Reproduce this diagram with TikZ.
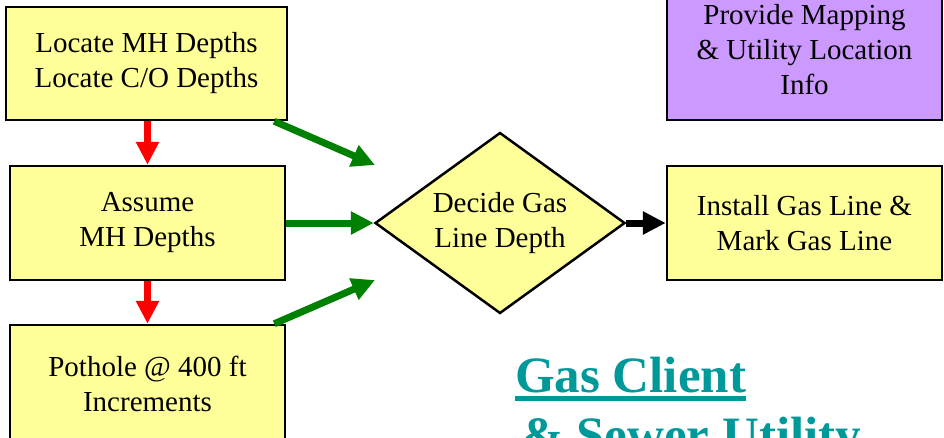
\documentclass[tikz,border=0pt]{standalone}
\usepackage{fontspec}
\setmainfont{Liberation Serif}
\usepackage{tikz}
\usepackage{xcolor}
\usetikzlibrary{shapes.geometric, arrows.meta, positioning}

\definecolor{boxyellow}{HTML}{FFFF99}
\definecolor{boxpurple}{HTML}{CC99FF}
\definecolor{flowgreen}{HTML}{008000}
\definecolor{titleteal}{HTML}{009999}

\begin{document}
\begin{tikzpicture}[x=1pt, y=-1pt,
  stepbox/.style={draw, line width=2.5pt, fill=boxyellow, align=center,
    inner sep=0pt, font=\fontsize{29}{35}\selectfont},
  flow/.style={line width=7pt, -{Triangle[length=23pt, width=22pt]}}]
  \useasboundingbox (0,0) rectangle (944,437);
  % left column of steps
  \node[stepbox, minimum width=281pt, minimum height=113pt] (locate) at (146.5,63.5)
    {Locate MH Depths\\Locate C/O Depths};
  \node[stepbox, minimum width=275pt, minimum height=114pt] (assume) at (147.5,223)
    {Assume\\MH Depths};
  \node[stepbox, minimum width=275pt, minimum height=118pt] (pothole) at (147.5,384)
    {Pothole @ 400 ft\\Increments};
  % decision
  \node[stepbox, diamond, aspect=1.38, minimum width=250pt, minimum height=181pt] (decide) at (500,223)
    {Decide Gas\\Line Depth};
  % right column
  \node[stepbox, minimum width=275pt, minimum height=114pt] (install) at (804.5,223)
    {Install Gas Line \&\\Mark Gas Line};
  \node[stepbox, fill=boxpurple, minimum width=275pt, minimum height=140pt] (mapping) at (804.5,50)
    {Provide Mapping\\\& Utility Location\\Info};
  % free arrow ends near the diamond
  \coordinate (upin) at (375,165);
  \coordinate (lowin) at (375,280);
  % red arrows down the column
  \draw[flow, red] (assume.north |- locate.south) -- (assume.north);
  \draw[flow, red] (assume.south) -- (pothole.north);
  % green arrows into the decision
  \draw[flow, flowgreen] ([xshift=-14pt]locate.south east) -- (upin);
  \draw[flow, flowgreen] (assume.east) -- (decide.west);
  \draw[flow, flowgreen] ([xshift=-12pt]pothole.north east) -- (lowin);
  % result
  \draw[flow, black] (decide.east) -- (install.west);
  % title
  \node[anchor=base west, inner sep=0pt, text=titleteal, font=\fontsize{51}{60}\selectfont\bfseries]
    (title) at (515,392) {Gas Client};
  \node[anchor=base west, inner sep=0pt, text=titleteal, font=\fontsize{51}{60}\selectfont\bfseries]
    (titleb) at (521,452) {\& Sewer Utility};
  \draw[titleteal, line width=5pt] ([yshift=-6.5pt]title.base west) -- ([yshift=-6.5pt]title.base east);
\end{tikzpicture}
\end{document}
